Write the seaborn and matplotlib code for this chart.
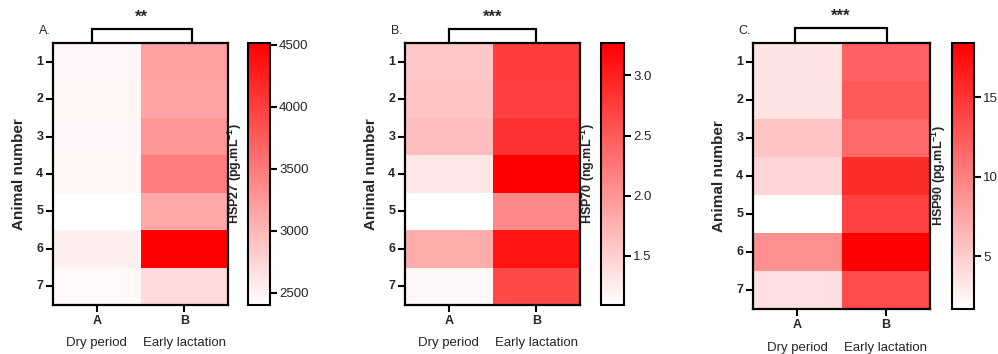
import numpy as np
import pandas as pd
import matplotlib
matplotlib.use('Agg')
import matplotlib.pyplot as plt
import matplotlib.transforms as mtransforms
import seaborn as sns
from matplotlib.colors import LinearSegmentedColormap

sns.set_style('white')
plt.rcParams['font.family'] = ['Liberation Sans', 'DejaVu Sans']
plt.rcParams['mathtext.fontset'] = 'custom'
plt.rcParams['mathtext.rm'] = 'Liberation Sans'
plt.rcParams['mathtext.bf'] = 'Liberation Sans:bold'
plt.rcParams['mathtext.default'] = 'bf'

animals = [1, 2, 3, 4, 5, 6, 7]
groups = ['A', 'B']
group_names = ['Dry period', 'Early lactation']

hsp27_dry = [2470, 2480, 2470, 2480, 2400, 2540, 2450]
hsp27_early = [3180, 3160, 3260, 3480, 3120, 4515, 2700]

hsp70_dry = [1.57, 1.60, 1.66, 1.30, 1.09, 1.80, 1.15]
hsp70_early = [2.75, 2.72, 2.85, 3.27, 2.10, 3.10, 2.65]

hsp90_dry = [3.5, 3.5, 5.6, 4.5, 1.7, 9.0, 3.8]
hsp90_early = [12.0, 12.5, 11.5, 15.5, 14.0, 18.4, 13.5]

panel_letters = ['A.', 'B.', 'C.']
stars = ['**', '***', '***']
cbar_labels = ['HSP27 (pg.mL$^{-1}$)', 'HSP70 (ng.mL$^{-1}$)', 'HSP90 (pg.mL$^{-1}$)']
cbar_ticks = [[2500, 3000, 3500, 4000, 4500], [1.5, 2.0, 2.5, 3.0], [5, 10, 15]]
cbar_ticklabels = [['2500', '3000', '3500', '4000', '4500'], ['1.5', '2.0', '2.5', '3.0'], ['5', '10', '15']]
series = [(hsp27_dry, hsp27_early), (hsp70_dry, hsp70_early), (hsp90_dry, hsp90_early)]

W, H = 998, 354
fig = plt.figure(figsize=(W / 100, H / 100), dpi=100)

# pixel geometry: (heat_left, heat_right, top, bottom, cbar_left, cbar_right)
geo = [(53, 228, 43, 305, 248, 270),
       (405, 580, 43, 305, 601, 624),
       (753, 930, 43, 309, 952, 974)]
brackets = [(0.44, 1.59), (0.5, 1.5), (0.47, 1.51)]

cmap = LinearSegmentedColormap.from_list('wr', ['#FFFFFF', '#FF0000'])

def px_rect(l, r, t, b):
    return [l / W, 1 - b / H, (r - l) / W, (b - t) / H]

for i, (dry, early) in enumerate(series):
    hl, hr, t, b, cl, cr = geo[i]
    ax = fig.add_axes(px_rect(hl, hr, t, b))
    cax = fig.add_axes(px_rect(cl, cr, t, b))
    df = pd.DataFrame({groups[0]: dry, groups[1]: early}, index=animals)
    sns.heatmap(df, ax=ax, cbar_ax=cax, cmap=cmap, vmin=min(dry + early), vmax=max(dry + early),
                cbar_kws={'ticks': cbar_ticks[i]})
    for s in ax.spines.values():
        s.set_visible(True)
        s.set_linewidth(1.6)
        s.set_color('black')
    ax.tick_params(axis='both', which='both', length=5, width=1.5, color='black',
                   direction='out', left=True, bottom=True, pad=2)
    ax.set_yticklabels([str(a) for a in animals], rotation=0, fontsize=9, fontweight='bold')
    ax.set_xticklabels(groups, rotation=0, fontsize=9, fontweight='bold')
    ax.set_xlabel('')
    ax.set_ylabel('Animal number', fontsize=11, fontweight='bold', labelpad=7)

    trans = mtransforms.blended_transform_factory(ax.transData, ax.transAxes)
    for xc, name in zip([0.5, 1.5], group_names):
        ax.text(xc, -0.145, name, transform=trans, ha='center', va='center', fontsize=9.5)
    bx0, bx1 = brackets[i]
    ax.plot([bx0, bx0, bx1, bx1], [1.0, 1.055, 1.055, 1.0], transform=trans,
            color='black', lw=1.6, clip_on=False, solid_joinstyle='miter')
    ax.text((bx0 + bx1) / 2, 1.10, stars[i], transform=trans, ha='center', va='center',
            fontsize=12, fontweight='bold')
    ax.text(-0.08, 1.045, panel_letters[i], transform=ax.transAxes, ha='left', va='center', fontsize=9)

    cbar = ax.collections[0].colorbar
    cbar.outline.set_visible(True)
    cbar.outline.set_linewidth(1.5)
    cbar.outline.set_edgecolor('black')
    cbar.set_ticklabels(cbar_ticklabels[i])
    cax.tick_params(length=5, width=1.5, color='black', labelsize=9.5, pad=1.5)
    cax.yaxis.set_label_position('left')
    cax.set_ylabel(cbar_labels[i], fontsize=9, fontweight='bold', labelpad=3)

fig.savefig('out.png', dpi=100)
